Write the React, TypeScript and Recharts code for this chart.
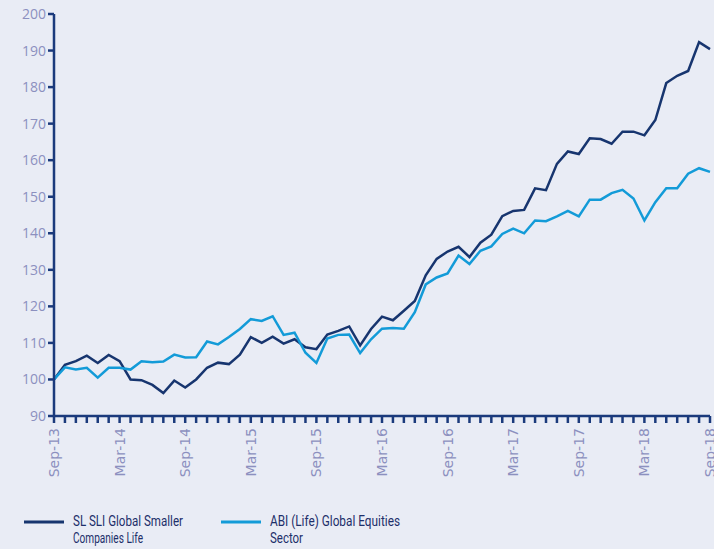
import React from "react";
import { LineChart, Line, XAxis, YAxis } from "recharts";

// month labels, Sep-13 .. Sep-18
const months = [
  "Sep-13", "Oct-13", "Nov-13", "Dec-13", "Jan-14", "Feb-14",
  "Mar-14", "Apr-14", "May-14", "Jun-14", "Jul-14", "Aug-14",
  "Sep-14", "Oct-14", "Nov-14", "Dec-14", "Jan-15", "Feb-15",
  "Mar-15", "Apr-15", "May-15", "Jun-15", "Jul-15", "Aug-15",
  "Sep-15", "Oct-15", "Nov-15", "Dec-15", "Jan-16", "Feb-16",
  "Mar-16", "Apr-16", "May-16", "Jun-16", "Jul-16", "Aug-16",
  "Sep-16", "Oct-16", "Nov-16", "Dec-16", "Jan-17", "Feb-17",
  "Mar-17", "Apr-17", "May-17", "Jun-17", "Jul-17", "Aug-17",
  "Sep-17", "Oct-17", "Nov-17", "Dec-17", "Jan-18", "Feb-18",
  "Mar-18", "Apr-18", "May-18", "Jun-18", "Jul-18", "Aug-18",
  "Sep-18",
];

const sliFund = [
  100, 104, 105, 106.5, 104.5, 106.7, 105, 100, 99.8, 98.5,
  96.3, 99.7, 97.8, 100, 103.2, 104.6, 104.2, 106.8, 111.6, 110,
  111.7, 109.8, 111, 108.8, 108.3, 112.3, 113.3, 114.5, 109.3, 113.8,
  117.2, 116.2, 118.8, 121.5, 128.5, 133, 135, 136.3, 133.5, 137.4,
  139.6, 144.7, 146.1, 146.4, 152.3, 151.8, 159, 162.4, 161.7, 166,
  165.8, 164.5, 167.8, 167.8, 166.8, 171, 181.1, 183.1, 184.4, 192.3,
  190.4,
];

const abiSector = [
  100, 103.3, 102.7, 103.2, 100.5, 103.2, 103.2, 102.7, 105, 104.7,
  104.9, 106.8, 106, 106.1, 110.4, 109.6, 111.6, 113.8, 116.5, 116,
  117.3, 112.2, 112.8, 107.3, 104.5, 111.2, 112.2, 112.3, 107.2, 111,
  113.9, 114.1, 113.9, 118.4, 126, 127.9, 129, 133.9, 131.6, 135.2,
  136.4, 139.8, 141.3, 140, 143.5, 143.3, 144.6, 146.1, 144.6, 149.2,
  149.2, 151, 151.9, 149.5, 143.5, 148.5, 152.3, 152.3, 156.3, 157.8,
  156.8,
];

const yTicks = [90, 100, 110, 120, 130, 140, 150, 160, 170, 180, 190, 200];

// legend labels, each wrapped onto two lines like the original
const seriesNames = [
  ["SL SLI Global Smaller", "Companies Life"],
  ["ABI (Life) Global Equities", "Sector"],
];

const data = months.map((m, i) => ({
  month: m,
  sli: sliFund[i],
  abi: abiSector[i],
}));

const NAVY = "#1b3a7c";
const DARK = "#17356f";
const LIGHT = "#139bd8";
const TICK_TEXT = "#8c90bf";

// the original uses a condensed face; squeeze Roboto to about the same widths
const legendWidths = [
  [110, 70],
  [130, 33],
];

const MonthTick = (props: any) => {
  const { x, y, payload, index } = props;
  if (index % 6 !== 0) return null;
  return (
    <g transform={`translate(${x},${y})`}>
      <text
        x={-3}
        y={0}
        dy="0.35em"
        textAnchor="end"
        transform="rotate(-90)"
        fill={TICK_TEXT}
        fontSize={14}
        fontFamily="'DejaVu Sans', sans-serif"
      >
        {payload.value}
      </text>
    </g>
  );
};

export default function App() {
  return (
    <div
      style={{
        position: "fixed",
        left: 0,
        top: 0,
        width: 714,
        height: 549,
        background: "#e9ecf5",
        overflow: "hidden",
      }}
    >
      <LineChart
        width={714}
        height={500}
        data={data}
        margin={{ top: 14, right: 4, left: 14, bottom: 0 }}
      >
        <XAxis
          dataKey="month"
          interval={0}
          tick={<MonthTick />}
          tickSize={7}
          tickLine={{ stroke: NAVY, strokeWidth: 2.5 }}
          axisLine={{ stroke: NAVY, strokeWidth: 2.5 }}
          height={84}
        />
        <YAxis
          domain={[90, 200]}
          ticks={yTicks}
          width={40}
          tickSize={6}
          tickLine={{ stroke: NAVY, strokeWidth: 2.5 }}
          axisLine={{ stroke: NAVY, strokeWidth: 2.5 }}
          tick={{ fill: TICK_TEXT, fontSize: 14, fontFamily: "'Open Sans', sans-serif" }}
          allowDataOverflow
        />
        <Line
          type="linear"
          dataKey="sli"
          stroke={DARK}
          strokeWidth={2.5}
          dot={false}
          isAnimationActive={false}
        />
        <Line
          type="linear"
          dataKey="abi"
          stroke={LIGHT}
          strokeWidth={2.5}
          dot={false}
          isAnimationActive={false}
        />
      </LineChart>

      {/* legend */}
      <svg
        width={714}
        height={49}
        style={{ position: "absolute", left: 0, top: 500 }}
      >
        {seriesNames.map((lines, i) => {
          const x0 = i === 0 ? 24 : 221;
          return (
            <g key={i}>
              <line
                x1={x0}
                x2={x0 + 40}
                y1={22}
                y2={22}
                stroke={i === 0 ? DARK : LIGHT}
                strokeWidth={3}
              />
              {lines.map((l, j) => (
                <text
                  key={l}
                  x={x0 + 49}
                  y={26 + j * 17}
                  fontSize={14.5}
                  fontFamily="Roboto, sans-serif"
                  fill="#1d2f6a"
                  textLength={legendWidths[i][j]}
                  lengthAdjust="spacingAndGlyphs"
                >
                  {l}
                </text>
              ))}
            </g>
          );
        })}
      </svg>
    </div>
  );
}
